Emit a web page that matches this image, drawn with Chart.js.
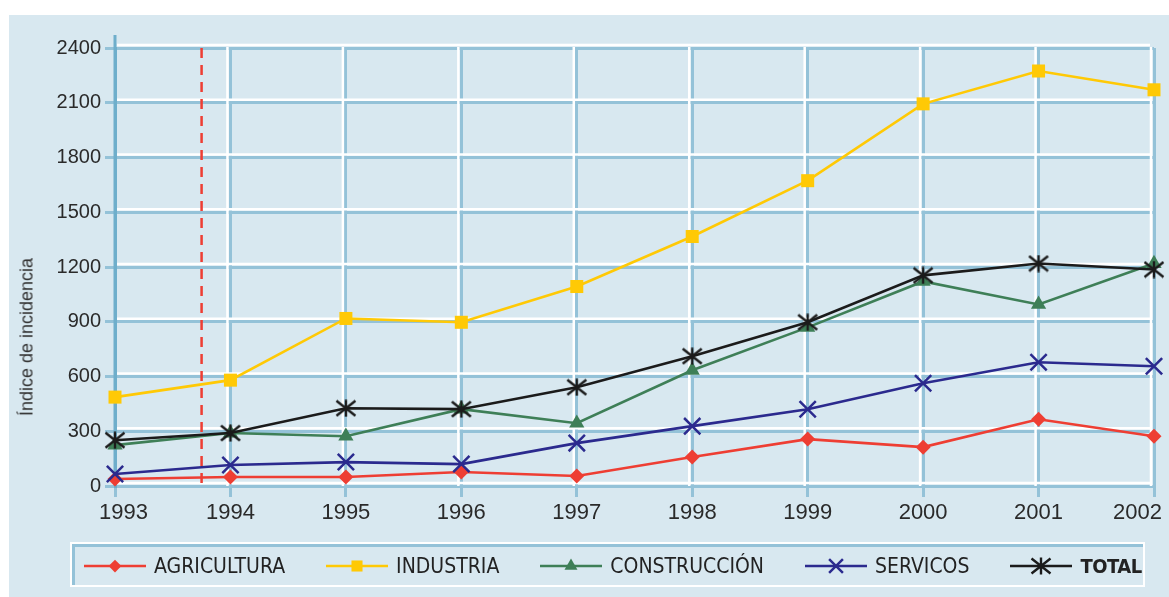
<!DOCTYPE html>
<html>
<head>
<meta charset="utf-8">
<script src="https://cdn.jsdelivr.net/npm/chart.js@4.4.1/dist/chart.umd.min.js"></script>
<style>
    body { margin: 0; width: 1169px; height: 597px; overflow: hidden; position: relative; background: #fff; font-family: "Liberation Sans", Arial, sans-serif; }
    #panel { position: absolute; left: 9px; top: 15px; width: 1160px; height: 582px; background: #d8e8f0; }
    #chart { position: absolute; left: 0; top: 0; }
    #yTitle { position: absolute; left: 27px; top: 337px; transform: translate(-50%, -50%) rotate(-90deg); font-size: 18px; color: #333; white-space: nowrap; }
    #legend { position: absolute; left: 70px; top: 542px; width: 1075px; height: 45px; box-sizing: border-box; border: 2px solid #fff; }
    #legend .inner { height: 100%; box-sizing: border-box; border-top: 3px solid #94c2d8; border-left: 3px solid #94c2d8; display: flex; align-items: center; padding-left: 9px; gap: 41px; }
    .item { display: flex; align-items: center; gap: 8px; font-family: "Liberation Sans Narrow", "DejaVu Sans Condensed", sans-serif; font-size: 21px; color: #222; }
    .item canvas { display: block; }
    .item .bold { font-weight: bold; font-size: 20px; letter-spacing: -0.5px; }
</style>
</head>
<body>
<div id="panel"></div>
<canvas id="chart" width="1169" height="597"></canvas>
<div id="yTitle">Índice de incidencia</div>
<div id="legend"><div class="inner" id="legendItems"></div></div>

<script>
// Incidence index by sector, 1993-2002
const years = [1993, 1994, 1995, 1996, 1997, 1998, 1999, 2000, 2001, 2002];
const agricultura = [38, 49, 49, 77, 55, 159, 257, 213, 366, 273];
const industria = [487, 580, 918, 897, 1093, 1367, 1673, 2094, 2274, 2171];
const construccion = [224, 290, 273, 421, 344, 634, 869, 1121, 995, 1219];
const servicos = [66, 115, 131, 120, 235, 328, 421, 563, 678, 656];
const total = [251, 290, 426, 421, 541, 711, 897, 1154, 1219, 1186];
const markerYear = 1993.75;

const seriesNames = ['AGRICULTURA', 'INDUSTRIA', 'CONSTRUCCIÓN', 'SERVICOS', 'TOTAL'];
const seriesValues = [agricultura, industria, construccion, servicos, total];
const seriesColors = ['#ee3e33', '#ffc905', '#3e7f57', '#2b2a8e', '#1b1b1b'];

const gridBlue = '#94c2d8';
const axisBlue = '#6eaecb';

// asterisk marker used for the TOTAL series
function makeAsterisk() {
    const c = document.createElement('canvas');
    c.width = 22; c.height = 18;
    const g = c.getContext('2d');
    g.strokeStyle = seriesColors[4];
    g.lineWidth = 2.4;
    g.beginPath();
    g.moveTo(1.5, 1.5); g.lineTo(20.5, 16.5);
    g.moveTo(20.5, 1.5); g.lineTo(1.5, 16.5);
    g.moveTo(11, 0.5); g.lineTo(11, 17.5);
    g.stroke();
    return c;
}

const seriesMarkers = [
    { pointStyle: 'rectRot', radius: 7.5 },
    { pointStyle: 'rect', radius: 9.2 },
    { pointStyle: 'triangle', radius: 8.8 },
    { pointStyle: 'crossRot', radius: 11.5 },
    { pointStyle: makeAsterisk(), radius: 10 }
];

// white highlight next to each grid line, plus the axis stub above the plot
const gridHighlight = {
    id: 'gridHighlight',
    beforeDatasetsDraw(chart) {
        const { ctx, chartArea: a, scales: { x, y } } = chart;
        ctx.save();
        ctx.strokeStyle = '#ffffff';
        ctx.lineWidth = 2.5;
        y.ticks.forEach(t => {
            const py = y.getPixelForValue(t.value) - 3;
            ctx.beginPath();
            ctx.moveTo(a.left + 2, py);
            ctx.lineTo(a.right - 4, py);
            ctx.stroke();
        });
        x.ticks.forEach((t, i) => {
            if (i === 0) return;
            const px = x.getPixelForValue(t.value) - 3;
            ctx.beginPath();
            ctx.moveTo(px, a.top - 1);
            ctx.lineTo(px, a.bottom);
            ctx.stroke();
        });
        ctx.strokeStyle = axisBlue;
        ctx.lineWidth = 3;
        ctx.beginPath();
        ctx.moveTo(a.left, a.top - 13);
        ctx.lineTo(a.left, a.bottom);
        ctx.stroke();
        ctx.restore();
    }
};

// year labels, kept inside the panel at both ends
const yearLabels = {
    id: 'yearLabels',
    afterDraw(chart) {
        const { ctx, chartArea: a, scales: { x } } = chart;
        ctx.save();
        ctx.font = '22px "Liberation Sans", Arial, sans-serif';
        ctx.fillStyle = '#2a2a2a';
        ctx.textBaseline = 'middle';
        ctx.textAlign = 'left';
        years.forEach(yr => {
            const text = String(yr);
            const w = ctx.measureText(text).width;
            let left = x.getPixelForValue(yr) - w / 2;
            left = Math.max(left, 99);
            left = Math.min(left, 1162 - w);
            ctx.fillText(text, left, a.bottom + 27);
        });
        ctx.restore();
    }
};

const datasets = seriesNames.map((name, i) => ({
    label: name,
    data: years.map((yr, j) => ({ x: yr, y: seriesValues[i][j] })),
    borderColor: seriesColors[i],
    backgroundColor: seriesColors[i],
    borderWidth: 2.6,
    pointStyle: seriesMarkers[i].pointStyle,
    pointRadius: seriesMarkers[i].radius,
    pointBorderWidth: i === 3 ? 2.5 : 0,
    pointBackgroundColor: seriesColors[i],
    pointBorderColor: seriesColors[i],
    tension: 0,
    clip: false,
    order: 5 - i
}));

datasets.push({
    label: '',
    data: [{ x: markerYear, y: 2400 }, { x: markerYear, y: 0 }],
    borderColor: '#ee3e33',
    borderWidth: 2.5,
    borderDash: [10, 7],
    pointRadius: 0,
    order: 20
});

Chart.defaults.font.family = '"Liberation Sans", Arial, sans-serif';
Chart.defaults.color = '#2a2a2a';

new Chart(document.getElementById('chart'), {
    type: 'line',
    data: { datasets },
    plugins: [gridHighlight, yearLabels],
    options: {
        responsive: false,
        animation: false,
        layout: { autoPadding: false, padding: { top: 48, left: 0, right: 15, bottom: 71 } },
        plugins: { legend: { display: false }, tooltip: { enabled: false } },
        scales: {
            x: {
                type: 'linear',
                min: 1993,
                max: 2002,
                afterFit: s => { s.height = 40; },
                ticks: { stepSize: 1, display: false },
                grid: { color: gridBlue, lineWidth: 3, tickLength: 11 },
                border: { display: false }
            },
            y: {
                min: 0,
                max: 2400,
                afterFit: s => { s.width = 115; },
                ticks: { stepSize: 300, padding: 4, font: { size: 20 }, callback: v => String(v) },
                grid: { color: gridBlue, lineWidth: 3, tickLength: 10 },
                border: { color: axisBlue, width: 3 }
            }
        }
    }
});

// legend: line sample with marker, then the series name
const legendItems = document.getElementById('legendItems');
seriesNames.forEach((name, i) => {
    const item = document.createElement('div');
    item.className = 'item';
    const c = document.createElement('canvas');
    c.width = 62; c.height = 26;
    const g = c.getContext('2d');
    g.strokeStyle = seriesColors[i];
    g.fillStyle = seriesColors[i];
    g.lineWidth = 2.5;
    g.beginPath();
    g.moveTo(0, 13); g.lineTo(62, 13);
    g.stroke();
    Chart.helpers.drawPoint(g, {
        pointStyle: seriesMarkers[i].pointStyle,
        radius: seriesMarkers[i].radius * 0.85,
        rotation: 0,
        borderWidth: i === 3 ? 2.5 : 0
    }, 31, 13);
    const label = document.createElement('span');
    label.textContent = name;
    if (i === 4) label.className = 'bold';
    item.appendChild(c);
    item.appendChild(label);
    legendItems.appendChild(item);
});
</script>
</body>
</html>
